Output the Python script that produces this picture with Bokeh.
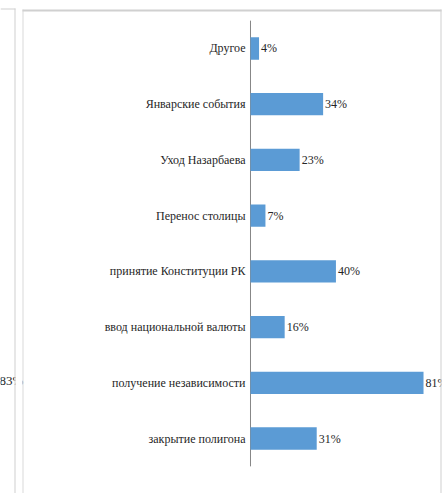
from bokeh.plotting import figure
from bokeh.models import ColumnDataSource, Range1d, BoxAnnotation, Label
from bokeh.core.properties import value
from bokeh.embed import file_html
from bokeh.resources import INLINE

categories = ["Другое", "Январские события", "Уход Назарбаева", "Перенос столицы",
              "принятие Конституции РК", "ввод национальной валюты",
              "получение независимости", "закрытие полигона"]
values = [4, 34, 23, 7, 40, 16, 81, 31]
value_labels = [f"{v}%" for v in values]
side_label = "83%"

FONT = "Liberation Serif"
TEXT_COLOR = "#262626"
BAR_COLOR = "#5B9BD5"
W, H = 446, 493

n = len(categories)
pos = list(range(n))  # category slots, top to bottom

src = ColumnDataSource(dict(pos=pos, cat=categories, val=values, lab=value_labels))

# frame covers whole canvas; ranges chosen so that 0% sits at x=250px
p = figure(width=W, height=H, output_backend="svg", toolbar_location=None,
           x_range=Range1d(-117.04, 91.76), y_range=Range1d(7.987, -0.8615),
           min_border=0)
p.xaxis.visible = False
p.yaxis.visible = False
p.grid.visible = False
p.outline_line_color = None
p.background_fill_color = "white"
p.border_fill_color = "white"

# category axis line
p.segment(x0=0, y0=-0.5, x1=0, y1=n - 0.5, line_color="#868686", line_width=1)

p.hbar(y="pos", right="val", left=0, height=0.4, source=src,
       fill_color=BAR_COLOR, line_color=None)
p.text(x="val", y="pos", text="lab", source=src, x_offset=2, text_baseline="middle",
       text_align="left", text_font=value(FONT), text_font_size="12px", text_color=TEXT_COLOR)
p.text(x=0, y="pos", text="cat", source=src, x_offset=-5, text_baseline="middle",
       text_align="right", text_font=value(FONT), text_font_size="12px", text_color=TEXT_COLOR)

# stray label from neighbouring panel (clipped)
p.add_layout(Label(x=-1, y=380, x_units="canvas", y_units="canvas", text=side_label,
                   text_font=FONT, text_font_size="13px", text_color=TEXT_COLOR,
                   text_baseline="middle"))

def rect(l, r, t, b, color):
    p.add_layout(BoxAnnotation(left=l, right=r, top=t, bottom=b,
                               left_units="canvas", right_units="canvas",
                               top_units="canvas", bottom_units="canvas",
                               fill_color=color, fill_alpha=1, line_color=None))

# masks (clip overflowing texts at panel borders)
rect(15, 22, 0, H, "white")
rect(441, W, 0, H, "white")
# neighbouring panel border
rect(14, 15, 8, H, "#d0d0d0")
rect(0, 15, 8, 9, "#d0d0d0")
# this panel border
rect(22, 23, 9, H, "#d9d9d9")
rect(22, 441, 9, 11, "#d0d0d0")
rect(440, 441, 9, H, "#d0d0d0")

open("out.html", "w").write(file_html(p, INLINE))
